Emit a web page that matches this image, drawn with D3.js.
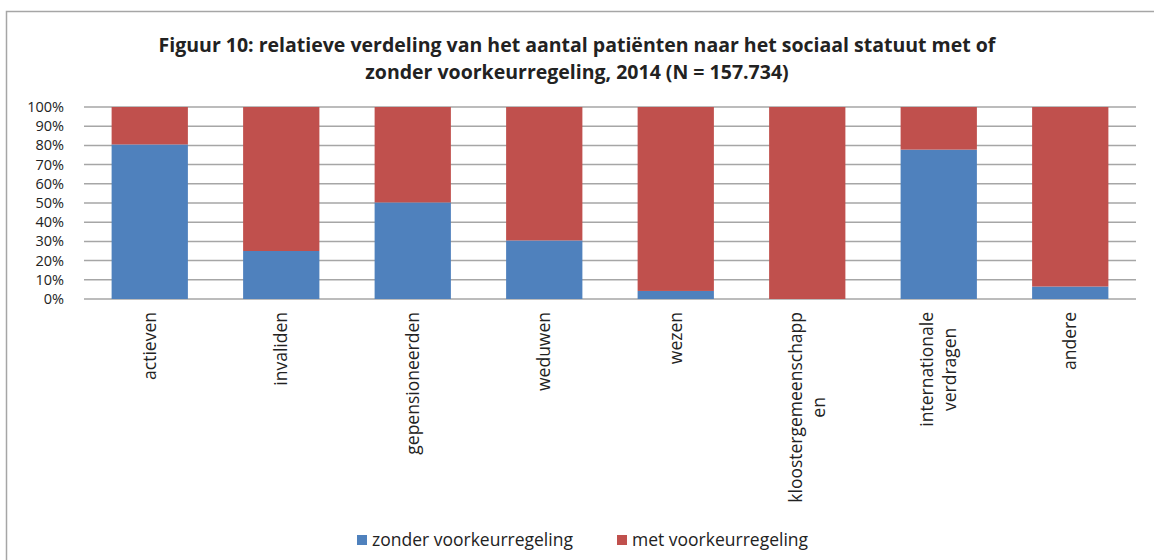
<!DOCTYPE html>
<html>
<head>
<meta charset="utf-8">
<script src="https://cdn.jsdelivr.net/npm/d3@7"></script>
<style>
  body { margin: 0; background: #fff; }
  text { font-family: "Open Sans", sans-serif; fill: #222; }
</style>
</head>
<body>
<script>
// data
const categories = ["actieven", "invaliden", "gepensioneerden", "weduwen", "wezen",
  "kloostergemeenschappen", "internationale verdragen", "andere"];
// labels as they wrap in the original
const categoryLines = [["actieven"], ["invaliden"], ["gepensioneerden"], ["weduwen"], ["wezen"],
  ["kloostergemeenschapp", "en"], ["internationale", "verdragen"], ["andere"]];
const zonder = [80.5, 25, 50.3, 30.5, 4.2, 0, 77.8, 6.5];
const met = zonder.map(v => 100 - v);
const seriesNames = ["zonder voorkeurregeling", "met voorkeurregeling"];
const seriesColors = ["#4F81BD", "#C0504D"];
const yTicks = [0, 10, 20, 30, 40, 50, 60, 70, 80, 90, 100];

const width = 1154, height = 560;
const margin = { top: 107, right: 18, bottom: 260, left: 84 };

var svg = d3.select("body").append("svg")
  .attr("width", width)
  .attr("height", height);

// chart frame
svg.append("rect")
  .attr("x", 6.5).attr("y", 11.5)
  .attr("width", width + 10).attr("height", height)
  .attr("fill", "none")
  .attr("stroke", "#a6a6a6")
  .attr("stroke-width", 1.5);

// title
var title = svg.append("text")
  .attr("x", 577)
  .attr("text-anchor", "middle")
  .style("font-weight", "bold")
  .style("font-size", "19.5px");
title.append("tspan").attr("x", 577).attr("y", 52)
  .text("Figuur 10: relatieve verdeling van het aantal patiënten naar het sociaal statuut met of");
title.append("tspan").attr("x", 577).attr("y", 79)
  .text("zonder voorkeurregeling, 2014 (N = 157.734)");

var x = d3.scaleBand()
  .domain(categories)
  .range([margin.left, width - margin.right])
  .paddingInner(0.42)
  .paddingOuter(0.21);

var y = d3.scaleLinear()
  .domain([0, 100])
  .range([height - margin.bottom - 1, margin.top]);

// gridlines
svg.append("g")
  .selectAll("line")
  .data(yTicks)
  .enter()
  .append("line")
  .attr("x1", margin.left)
  .attr("x2", width - margin.right)
  .attr("y1", d => y(d))
  .attr("y2", d => y(d))
  .attr("stroke", "#a6a6a6")
  .attr("stroke-width", 1.5);

// y axis labels
svg.append("g")
  .selectAll("text")
  .data(yTicks)
  .enter()
  .append("text")
  .attr("x", 64)
  .attr("y", d => y(d))
  .attr("dy", "0.35em")
  .attr("text-anchor", "end")
  .style("font-size", "14.5px")
  .text(d => d + "%");

// stacked bars
var table = categories.map((c, i) => ({ cat: c, zonder: zonder[i], met: met[i] }));
var stack = d3.stack().keys(["zonder", "met"])(table);

svg.append("g")
  .selectAll("g")
  .data(stack)
  .enter()
  .append("g")
  .attr("fill", (d, i) => seriesColors[i])
  .selectAll("rect")
  .data(d => d)
  .enter()
  .append("rect")
  .attr("x", d => x(d.data.cat))
  .attr("width", x.bandwidth())
  .attr("y", d => y(d[1]))
  .attr("height", d => y(d[0]) - y(d[1]));

// x labels, rotated
var xl = svg.append("g")
  .selectAll("text")
  .data(categories)
  .enter()
  .append("text")
  .attr("transform", d => "translate(" + (x(d) + x.bandwidth() / 2) + ",312) rotate(-90)")
  .attr("text-anchor", "end")
  .style("font-size", "17.5px");
xl.each(function (d, i) {
  var lines = categoryLines[i];
  var n = lines.length;
  var t = d3.select(this);
  lines.forEach(function (ln, j) {
    t.append("tspan")
      .attr("x", 0)
      .attr("y", (j - (n - 1) / 2) * 23)
      .attr("dy", "0.35em")
      .attr("text-anchor", j == 0 ? "end" : "middle")
      .text(ln);
  });
});
// second lines centred under the first
xl.each(function (d, i) {
  var tsp = d3.select(this).selectAll("tspan");
  if (tsp.size() > 1) {
    var w = tsp.nodes()[0].getComputedTextLength();
    tsp.filter((e, j) => j > 0).attr("x", -w / 2);
  }
});

// legend
var legendX = [357, 617];
var legend = svg.append("g")
  .selectAll("g")
  .data(seriesNames)
  .enter()
  .append("g")
  .attr("transform", (d, i) => "translate(" + legendX[i] + ",540)");
legend.append("rect")
  .attr("x", 0).attr("y", -5)
  .attr("width", 10).attr("height", 10)
  .attr("fill", (d, i) => seriesColors[i]);
legend.append("text")
  .attr("x", 15)
  .attr("dy", "0.35em")
  .style("font-size", "17.5px")
  .text(d => d);
</script>
</body>
</html>
